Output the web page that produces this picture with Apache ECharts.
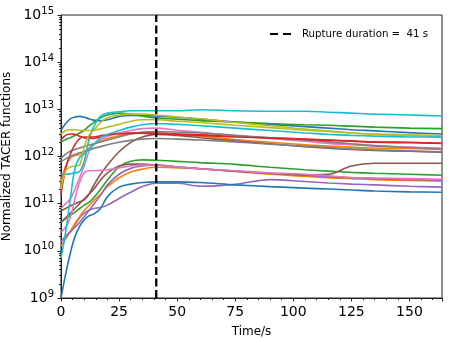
<!DOCTYPE html>
<html><head><meta charset="utf-8">
<script src="https://cdn.jsdelivr.net/npm/echarts@6/dist/echarts.min.js"></script>
<style>html,body{margin:0;padding:0;background:#fff}#c{width:454px;height:338px}</style>
</head><body><div id="c"></div>
<script>
// time samples (s)
const time = [0,2,4,6,8,10,12,14,17,20,25,30,35,41,50,60,75,90,105,115,125,135,150,164];
// TACER curves
const blueA  = [3.6e12,5.0e12,6.3e12,6.9e12,7.1e12,6.8e12,6.3e12,5.9e12,5.75e12,6.0e12,7.1e12,7.4e12,7.4e12,7.2e12,6.8e12,6.2e12,5.4e12,4.8e12,4.3e12,4.0e12,3.7e12,3.5e12,3.2e12,3.0e12];
const orangeA= [2.8e11,6.3e11,9.3e11,1.05e12,1.1e12,1.26e12,1.5e12,1.78e12,2.1e12,2.4e12,2.75e12,3.0e12,3.16e12,3.16e12,2.95e12,2.7e12,2.3e12,2.0e12,1.78e12,1.66e12,1.58e12,1.51e12,1.48e12,1.45e12];
const greenA = [2.0e12,2.3e12,2.5e12,2.8e12,3.16e12,3.6e12,4.4e12,5.25e12,6.6e12,7.6e12,8.3e12,7.9e12,7.2e12,6.6e12,6.2e12,5.75e12,5.4e12,5.0e12,4.7e12,4.6e12,4.4e12,4.2e12,4.0e12,3.9e12];
const redA   = [2.24e12,2.8e12,3.0e12,2.95e12,2.7e12,2.5e12,2.4e12,2.4e12,2.6e12,2.9e12,3.1e12,3.16e12,3.16e12,3.16e12,3.0e12,2.9e12,2.7e12,2.5e12,2.34e12,2.24e12,2.14e12,2.04e12,2.0e12,1.9e12];
const purpleA= [1.55e10,2.0e10,2.6e10,3.55e10,5.0e10,6.3e10,7.2e10,7.9e10,8.3e10,9.3e10,1.29e11,1.74e11,2.3e11,2.7e11,2.7e11,2.34e11,2.57e11,3.24e11,2.95e11,2.75e11,2.6e11,2.5e11,2.34e11,2.24e11];
const brownA = [7.1e10,7.9e10,8.9e10,1.0e11,1.1e11,1.2e11,1.58e11,2.4e11,4.2e11,6.6e11,1.26e12,2.0e12,2.6e12,2.95e12,2.8e12,2.5e12,2.14e12,1.86e12,1.62e12,1.5e12,1.41e12,1.35e12,1.29e12,1.23e12];
const pinkA  = [7.9e10,1.0e11,1.26e11,2.0e11,3.55e11,6.3e11,1.26e12,1.78e12,2.3e12,2.7e12,3.16e12,3.55e12,3.9e12,4.0e12,3.6e12,3.24e12,2.75e12,2.4e12,2.1e12,1.9e12,1.78e12,1.66e12,1.58e12,1.51e12];
const grayA  = [9.1e11,1.12e12,1.29e12,1.41e12,1.51e12,1.62e12,1.74e12,1.86e12,2.04e12,2.24e12,2.6e12,3.0e12,3.3e12,3.4e12,3.3e12,3.16e12,2.8e12,2.5e12,2.24e12,2.04e12,1.86e12,1.7e12,1.55e12,1.41e12];
const oliveA = [2.95e12,3.55e12,3.7e12,3.7e12,3.6e12,3.55e12,3.55e12,3.6e12,3.8e12,4.2e12,4.8e12,5.6e12,6.0e12,6.0e12,5.6e12,5.25e12,4.6e12,4.1e12,3.6e12,3.4e12,3.16e12,3.0e12,2.9e12,2.75e12];
const cyanA  = [4.2e11,4.2e11,4.3e11,4.5e11,4.8e11,7.9e11,2.24e12,4.2e12,7.1e12,8.3e12,8.9e12,9.3e12,9.3e12,9.3e12,9.3e12,9.8e12,9.3e12,9.1e12,9.1e12,8.7e12,8.3e12,7.9e12,7.6e12,7.2e12];
const blueB  = [1.0e9,3.2e9,8.9e9,2.0e10,3.3e10,4.5e10,5.5e10,6.0e10,7.9e10,1.41e11,2.24e11,2.6e11,2.8e11,2.9e11,2.9e11,2.8e11,2.5e11,2.3e11,2.14e11,2.04e11,1.95e11,1.86e11,1.78e11,1.74e11];
const orangeB= [1.26e10,1.78e10,2.6e10,3.8e10,5.25e10,7.2e10,9.1e10,1.15e11,1.58e11,2.3e11,3.55e11,4.7e11,5.4e11,5.9e11,5.75e11,5.5e11,4.8e11,4.2e11,3.8e11,3.55e11,3.4e11,3.24e11,3.1e11,3.0e11];
const greenB = [4.0e10,4.8e10,5.6e10,6.6e10,7.9e10,9.3e10,1.07e11,1.32e11,2.0e11,3.16e11,6.0e11,7.9e11,8.5e11,8.3e11,7.9e11,7.4e11,6.8e11,5.9e11,5.25e11,4.9e11,4.6e11,4.4e11,4.2e11,4.0e11];
const redB   = [1.58e11,5.6e11,1.12e12,1.78e12,2.4e12,2.6e12,2.6e12,2.6e12,2.75e12,2.9e12,3.0e12,3.1e12,3.1e12,3.0e12,2.95e12,2.8e12,2.6e12,2.45e12,2.3e12,2.2e12,2.1e12,2.0e12,1.95e12,1.9e12];
const purpleB= [1.58e10,2.0e10,2.5e10,3.16e10,4.0e10,5.25e10,7.1e10,9.5e10,1.5e11,2.5e11,4.2e11,5.6e11,6.3e11,6.6e11,6.0e11,5.5e11,4.9e11,4.4e11,4.0e11,3.7e11,3.55e11,3.4e11,3.24e11,3.16e11];
const brownB = [4.0e10,5.0e10,6.3e10,7.9e10,1.0e11,1.26e11,1.58e11,2.0e11,3.16e11,4.5e11,6.3e11,6.9e11,6.9e11,6.6e11,6.0e11,5.5e11,4.9e11,4.4e11,4.1e11,4.2e11,6.3e11,7.2e11,7.2e11,7.2e11];
const pinkB  = [2.5e10,3.16e10,5.0e10,1.26e11,2.8e11,4.5e11,5.0e11,5.0e11,5.1e11,5.25e11,5.75e11,6.3e11,6.6e11,6.6e11,6.0e11,5.5e11,5.0e11,4.5e11,4.2e11,3.9e11,3.6e11,3.5e11,3.4e11,3.3e11];
const grayB  = [7.8e11,8.9e11,1.0e12,1.1e12,1.2e12,1.26e12,1.38e12,1.48e12,1.62e12,1.78e12,2.0e12,2.2e12,2.34e12,2.4e12,2.34e12,2.24e12,2.04e12,1.82e12,1.66e12,1.55e12,1.45e12,1.38e12,1.32e12,1.26e12];
const oliveB = [2.0e11,5.0e11,6.0e11,6.3e11,6.6e11,1.58e12,2.8e12,3.55e12,5.25e12,6.6e12,7.6e12,7.9e12,7.9e12,7.6e12,6.9e12,6.3e12,5.25e12,4.5e12,3.8e12,3.5e12,3.16e12,2.95e12,2.8e12,2.7e12];
const cyanB  = [6.9e9,2.5e10,1.26e11,5.6e11,9.5e11,1.12e12,1.41e12,1.78e12,2.5e12,2.95e12,3.55e12,4.2e12,4.7e12,5.0e12,4.8e12,4.5e12,4.0e12,3.55e12,3.16e12,2.95e12,2.8e12,2.7e12,2.6e12,2.57e12];
const ruptureDuration = 41;
const legendLabel = 'Rupture duration =  41 s';
const yMin = 1e9, yMax = 1e15;
const xMax = 164;

const curves = [blueA,orangeA,greenA,redA,purpleA,brownA,pinkA,grayA,oliveA,cyanA,
                blueB,orangeB,greenB,redB,purpleB,brownB,pinkB,grayB,oliveB,cyanB];
const colors = ['#1f77b4','#ff7f0e','#2ca02c','#d62728','#9467bd','#8c564b','#e377c2','#7f7f7f','#bcbd22','#17becf'];

const minorY = [];
for (let e = 9; e < 15; e++) for (let m = 2; m <= 9; m++) minorY.push(m * Math.pow(10, e));

const font = 'DejaVu Sans';
const series = curves.map((c, i) => ({
  type: 'line', name: 'c' + i, smooth: 0.35, showSymbol: false, symbol: 'none',
  data: time.map((t, k) => [t, c[k]]),
  lineStyle: { width: 1.6, color: colors[i % 10] }, itemStyle: { color: colors[i % 10] },
  silent: true, z: 2
}));
series.push({
  type: 'line', name: legendLabel, symbol: 'none', showSymbol: false,
  data: [[ruptureDuration, yMin], [ruptureDuration, yMax]],
  lineStyle: { color: '#000', width: 2.3, type: [8, 3.5] }, itemStyle: { color: '#000' }, z: 5
});

const chart = echarts.init(document.getElementById('c'), null, { renderer: 'canvas' });
chart.setOption({
  animation: false,
  backgroundColor: '#fff',
  grid: { left: 61, right: 12, top: 15, bottom: 40, show: true, borderColor: '#222', borderWidth: 1, containLabel: false, outerBoundsMode: 'none' },
  legend: {
    data: [legendLabel], left: 265, top: 24, itemWidth: 21, itemHeight: 2.4,
    icon: 'path://M0,0H8V2H0Z M13,0H21V2H13Z',
    itemStyle: { color: '#000' },
    textStyle: { fontFamily: font, fontSize: 10.2, color: '#000', padding: [0, 0, 0, 6] }
  },
  xAxis: {
    type: 'value', min: 0, max: xMax, interval: 25,
    name: 'Time/s', nameLocation: 'middle', nameGap: 28,
    nameTextStyle: { fontFamily: font, fontSize: 12, color: '#000' },
    axisLine: { show: true, lineStyle: { color: '#222', width: 1 } },
    axisTick: { show: true, length: 3.5, lineStyle: { color: '#222' } },
    minorTick: { show: true, splitNumber: 5, length: 2, lineStyle: { color: '#222' } },
    axisLabel: { fontFamily: font, fontSize: 14, color: '#000', margin: 7, showMaxLabel: false },
    splitLine: { show: false }
  },
  yAxis: [{
    type: 'log', logBase: 10, min: yMin, max: yMax,
    name: 'Normalized TACER functions', nameLocation: 'middle', nameGap: 44, nameRotate: 90,
    nameTextStyle: { fontFamily: font, fontSize: 12, color: '#000' },
    axisLine: { show: true, lineStyle: { color: '#222', width: 1 } },
    axisTick: { show: true, length: 3.5, lineStyle: { color: '#222' } },
    axisLabel: {
      margin: 7, color: '#000',
      formatter: v => '{b|10}{s|' + Math.round(Math.log10(v)) + '}',
      rich: {
        b: { fontFamily: font, fontSize: 14, color: '#000', lineHeight: 18 },
        s: { fontFamily: font, fontSize: 10, color: '#000', verticalAlign: 'top', lineHeight: 12 }
      }
    },
    splitLine: { show: false }
  }, {
    type: 'log', logBase: 10, min: yMin, max: yMax, position: 'left',
    axisLine: { show: false },
    axisTick: { show: true, length: 2, customValues: minorY, lineStyle: { color: '#222' } },
    axisLabel: { show: false }, splitLine: { show: false }
  }],
  series
});
</script></body></html>
